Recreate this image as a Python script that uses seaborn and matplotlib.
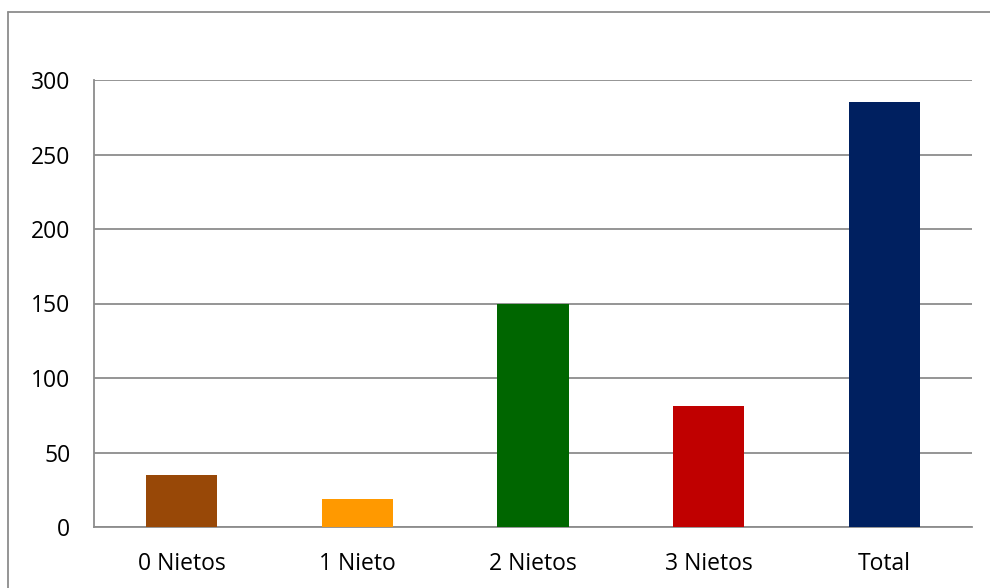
import matplotlib
matplotlib.use("Agg")
import matplotlib.pyplot as plt
import seaborn as sns
import pandas as pd
from matplotlib.lines import Line2D

categories = ["0 Nietos", "1 Nieto", "2 Nietos", "3 Nietos", "Total"]
values = [35, 19, 150, 81, 285]
colors = ["#984807", "#FF9900", "#006600", "#C00000", "#002060"]
yticks = [0, 50, 100, 150, 200, 250, 300]

sns.set_theme(style="white")
plt.rcParams['font.family'] = ['Open Sans', 'DejaVu Sans']

W, H = 990, 588
fig = plt.figure(figsize=(W / 100, H / 100), dpi=100)
ax = fig.add_axes([94 / W, 1 - 527 / H, (972 - 94) / W, (527 - 80) / H])

df = pd.DataFrame({"cat": categories, "val": values})
sns.barplot(data=df, x="cat", y="val", hue="cat", palette=colors, legend=False,
            width=0.405, saturation=1, ax=ax, zorder=3, linewidth=0, edgecolor="none")

ax.set_ylim(0, 300)
ax.set_xlim(-0.5, len(categories) - 0.5)
ax.set_yticks(yticks)
ax.set_yticklabels([str(v) for v in yticks])
ax.set_xlabel("")
ax.set_ylabel("")
ax.yaxis.grid(True, color="#8c8c8c", linewidth=1.3, zorder=0)
ax.set_axisbelow(True)
for s in ["top", "right"]:
    ax.spines[s].set_visible(False)
for s in ["left", "bottom"]:
    ax.spines[s].set_color("#8c8c8c")
    ax.spines[s].set_linewidth(1.3)
ax.tick_params(axis="both", length=0, labelsize=16.5, labelcolor="#000000")
ax.tick_params(axis="y", pad=17)
ax.tick_params(axis="x", pad=18)

# outer chart frame
fig.add_artist(Line2D([8 / W, 8 / W], [0, 1 - 12 / H], transform=fig.transFigure,
                      color="#8c8c8c", linewidth=1.3))
fig.add_artist(Line2D([8 / W, 1], [1 - 12 / H, 1 - 12 / H], transform=fig.transFigure,
                      color="#8c8c8c", linewidth=1.3))

fig.savefig("out.png", dpi=100, facecolor="white")
